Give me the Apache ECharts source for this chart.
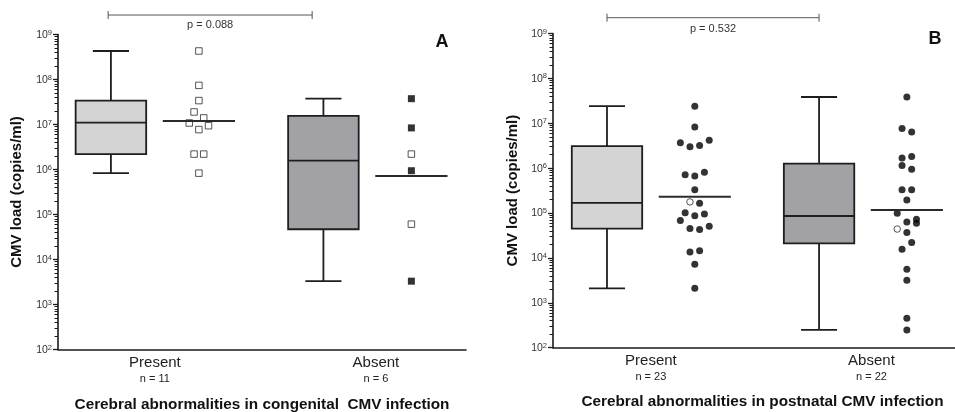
<!DOCTYPE html>
<html><head><meta charset="utf-8">
<script src="https://cdn.jsdelivr.net/npm/echarts@6/dist/echarts.min.js"></script>
<style>html,body{margin:0;padding:0;background:#fff}#c{width:955px;height:412px}</style>
</head><body><div id="c"></div>
<script>
// ---------------- data ----------------
const groupNames = ['Present', 'Absent'];
const groupX = [0, 1];
const nLabelsA = ['n = 11', 'n = 6'];
const nLabelsB = ['n = 23', 'n = 22'];
const xTitleA = 'Cerebral abnormalities in congenital  CMV infection';
const xTitleB = 'Cerebral abnormalities in postnatal CMV infection';
const yTitle = 'CMV load (copies/ml)';
const yTicks = [1e2, 1e3, 1e4, 1e5, 1e6, 1e7, 1e8, 1e9];

// box stats: [min, q1, median, q3, max]
const boxA = [[8.3e5, 2.2e6, 1.1e7, 3.4e7, 4.3e8], [3.3e3, 4.7e4, 1.57e6, 1.55e7, 3.75e7]];
const boxB = [[2.1e3, 4.5e4, 1.68e5, 3.1e6, 2.4e7], [249, 2.1e4, 8.6e4, 1.26e6, 3.85e7]];
const meanA = [1.2e7, 7.2e5];
const meanB = [2.3e5, 1.17e5];

// individual points: value, jitter step, filled (1) / open (0)
const aPresentVals = [4.3e8, 7.4e7, 3.4e7, 1.9e7, 1.4e7, 1.08e7, 9.4e6, 7.7e6, 2.2e6, 2.2e6, 8.3e5];
const aPresentJit  = [0, 0, 0, -1, 1, -2, 2, 0, -1, 1, 0];
const aPresentFill = [0, 0, 0, 0, 0, 0, 0, 0, 0, 0, 0];
const aAbsentVals  = [3.75e7, 8.4e6, 2.2e6, 9.4e5, 6.1e4, 3.3e3];
const aAbsentJit   = [0, 0, 0, 0, 0, 0];
const aAbsentFill  = [1, 1, 0, 1, 0, 1];

const bPresentVals = [2.4e7, 8.3e6, 3.7e6, 4.2e6, 3.0e6, 3.2e6, 7.1e5, 6.7e5, 8.1e5, 3.3e5, 1.77e5, 1.65e5,
                      1.02e5, 8.7e4, 9.5e4, 6.8e4, 4.5e4, 4.3e4, 5.1e4, 1.36e4, 1.45e4, 7.2e3, 2.1e3];
const bPresentJit  = [0, 0, -3, 3, -1, 1, -2, 0, 2, 0, -1, 1, -2, 0, 2, -3, -1, 1, 3, -1, 1, 0, 0];
const bPresentFill = [1, 1, 1, 1, 1, 1, 1, 1, 1, 1, 0, 1, 1, 1, 1, 1, 1, 1, 1, 1, 1, 1, 1];
const bAbsentVals  = [3.85e7, 7.6e6, 6.4e6, 1.69e6, 1.81e6, 1.14e6, 9.4e5, 3.3e5, 3.3e5, 1.96e5, 9.9e4,
                      6.3e4, 7.3e4, 5.9e4, 4.4e4, 3.7e4, 2.2e4, 1.56e4, 5.6e3, 3.2e3, 454, 249];
const bAbsentJit   = [0, -1, 1, -1, 1, -1, 1, -1, 1, 0, -2, 0, 2, 2, -2, 0, 1, -1, 0, 0, 0, 0];
const bAbsentFill  = [1, 1, 1, 1, 1, 1, 1, 1, 1, 1, 1, 1, 1, 1, 0, 1, 1, 1, 1, 1, 1, 1];

// p-value annotations: [x from, x to, bracket level, text level]
const pTextA = 'p = 0.088';
const pTextB = 'p = 0.532';
const bracketA = [-0.22, 0.74, 2.71e9, 1.65e9];
const bracketB = [-0.207, 0.793, 2.25e9, 1.28e9];

// ---------------- layout / style constants ----------------
const FONT = '"Liberation Sans", Arial, Helvetica, sans-serif';
const BOX_OFF = -0.207, DOT_OFF = 0.207, JIT = 0.0227;
const BOX_HALF = 0.166, CAP_HALF = 0.085, MEAN_HALF = 0.17;
const minorTicks = [];
for (let e = 2; e < 9; e++) for (let k = 2; k <= 9; k++) minorTicks.push(k * Math.pow(10, e));

const chart = echarts.init(document.getElementById('c'), null, {renderer: 'canvas'});

function yMajor(grid, gap) {
  return {
    type: 'log', logBase: 10, min: 1e2, max: 1e9, gridIndex: grid, position: 'left',
    name: yTitle, nameLocation: 'middle', nameGap: gap,
    nameTextStyle: {fontFamily: FONT, fontWeight: 'bold', fontSize: 15, color: '#111'},
    axisLine: {show: true, onZero: false, lineStyle: {color: '#1a1a1a', width: 1.6}},
    axisTick: {show: true, customValues: yTicks, length: 5, lineStyle: {color: '#1a1a1a', width: 1.3}},
    axisLabel: {
      show: true, customValues: yTicks, margin: 6,
      formatter: v => '{b|10}{s|' + Math.round(Math.log10(v)) + '}',
      rich: {
        b: {fontFamily: FONT, fontSize: 10.5, color: '#333', lineHeight: 12, verticalAlign: 'bottom'},
        s: {fontFamily: FONT, fontSize: 7.5, color: '#333', lineHeight: 12, verticalAlign: 'top', padding: [0, 0, 4, 0]}
      }
    },
    splitLine: {show: false}
  };
}
function yMinor(grid) {
  return {
    type: 'log', logBase: 10, min: 1e2, max: 1e9, gridIndex: grid, position: 'left', offset: 0,
    axisLine: {show: false, onZero: false},
    axisTick: {show: true, customValues: minorTicks, length: 3.5, lineStyle: {color: '#1a1a1a', width: 1}},
    axisLabel: {show: false}, splitLine: {show: false}
  };
}
function xAxis(grid, min, max, nLabels, title, pad, gap) {
  return {
    type: 'value', gridIndex: grid, min: min, max: max, position: 'bottom',
    name: title, nameLocation: 'middle', nameGap: gap,
    nameTextStyle: {fontFamily: FONT, fontWeight: 'bold', fontSize: 15.3, color: '#111', padding: pad},
    axisLine: {show: true, onZero: false, lineStyle: {color: '#1a1a1a', width: 1.6}},
    axisTick: {show: false},
    splitLine: {show: false},
    axisLabel: {
      show: true, customValues: [0, 1.04], margin: 5,
      formatter: v => {
        const i = v < 0.5 ? 0 : 1;
        return '{a|' + groupNames[i] + '}\n{b|' + nLabels[i] + '}';
      },
      rich: {
        a: {fontFamily: FONT, fontSize: 15, color: '#222', lineHeight: 17},
        b: {fontFamily: FONT, fontSize: 11, color: '#222', lineHeight: 14}
      }
    }
  };
}

function boxSeries(stats, xi, yi, fills) {
  return {
    type: 'custom', xAxisIndex: xi, yAxisIndex: yi, silent: true, z: 3,
    data: stats.map((s, i) => [groupX[i] + BOX_OFF].concat(s).concat([i])),
    renderItem: function (params, api) {
      const x = api.value(0);
      const v = [1, 2, 3, 4, 5].map(k => api.value(k));
      const pMin = api.coord([x, v[0]]), pQ1 = api.coord([x, v[1]]), pMed = api.coord([x, v[2]]);
      const pQ3 = api.coord([x, v[3]]), pMax = api.coord([x, v[4]]);
      const xl = api.coord([x - BOX_HALF, v[2]])[0], xr = api.coord([x + BOX_HALF, v[2]])[0];
      const cl = api.coord([x - CAP_HALF, v[2]])[0], cr = api.coord([x + CAP_HALF, v[2]])[0];
      const st = {stroke: '#1e1e1e', lineWidth: 1.8, fill: null};
      const fill = fills[api.value(6)];
      return {
        type: 'group', children: [
          {type: 'line', shape: {x1: pMax[0], y1: pMax[1], x2: pQ3[0], y2: pQ3[1]}, style: st},
          {type: 'line', shape: {x1: pQ1[0], y1: pQ1[1], x2: pMin[0], y2: pMin[1]}, style: st},
          {type: 'line', shape: {x1: cl, y1: pMax[1], x2: cr, y2: pMax[1]}, style: st},
          {type: 'line', shape: {x1: cl, y1: pMin[1], x2: cr, y2: pMin[1]}, style: st},
          {type: 'rect', shape: {x: xl, y: pQ3[1], width: xr - xl, height: pQ1[1] - pQ3[1]},
            style: {fill: fill, stroke: '#1e1e1e', lineWidth: 1.8}},
          {type: 'line', shape: {x1: xl, y1: pMed[1], x2: xr, y2: pMed[1]}, style: st}
        ]
      };
    }
  };
}
function meanSeries(means, xi, yi) {
  return {
    type: 'custom', xAxisIndex: xi, yAxisIndex: yi, silent: true, z: 5,
    data: means.map((m, i) => [groupX[i] + DOT_OFF, m]),
    renderItem: function (params, api) {
      const x = api.value(0), m = api.value(1);
      const a = api.coord([x - MEAN_HALF, m]), b = api.coord([x + MEAN_HALF, m]);
      return {type: 'line', shape: {x1: a[0], y1: a[1], x2: b[0], y2: b[1]},
        style: {stroke: '#2a2a2a', lineWidth: 2}};
    }
  };
}
function pts(vals, jit, fill, g, want) {
  const out = [];
  vals.forEach((v, i) => { if (fill[i] === want) out.push([groupX[g] + DOT_OFF + jit[i] * JIT, v]); });
  return out;
}
function dotSeries(data, xi, yi, symbol, size, filled) {
  return {
    type: 'scatter', xAxisIndex: xi, yAxisIndex: yi, silent: true, z: 4,
    symbol: symbol, symbolSize: size, data: data,
    itemStyle: filled ? {color: '#000'} : {color: '#fff', borderColor: '#2a2a2a', borderWidth: 1}
  };
}
function bracketSeries(br, text, xi, yi) {
  return {
    type: 'custom', xAxisIndex: xi, yAxisIndex: yi, silent: true, clip: false, z: 6,
    data: [br],
    renderItem: function (params, api) {
      const a = api.coord([api.value(0), api.value(2)]);
      const b = api.coord([api.value(1), api.value(2)]);
      const t = api.coord([(api.value(0) + api.value(1)) / 2, api.value(3)]);
      const st = {stroke: '#555', lineWidth: 1};
      return {
        type: 'group', children: [
          {type: 'line', shape: {x1: a[0], y1: a[1], x2: b[0], y2: b[1]}, style: st},
          {type: 'line', shape: {x1: a[0], y1: a[1] - 4, x2: a[0], y2: a[1] + 4}, style: st},
          {type: 'line', shape: {x1: b[0], y1: b[1] - 4, x2: b[0], y2: b[1] + 4}, style: st},
          {type: 'text', style: {text: text, x: t[0], y: t[1], align: 'center', verticalAlign: 'middle',
            font: '11px ' + FONT, fill: '#333'}}
        ]
      };
    }
  };
}

const option = {
  animation: false,
  backgroundColor: '#fff',
  grid: [
    {left: 58, top: 34.5, width: 408, height: 315, outerBoundsMode: 'none', containLabel: false},
    {left: 553, top: 33.5, width: 402, height: 314.2, outerBoundsMode: 'none', containLabel: false}
  ],
  xAxis: [
    xAxis(0, -0.456, 1.464, nLabelsA, xTitleA, [0, 0, 0, 0], 48),
    xAxis(1, -0.4616, 1.434, nLabelsB, xTitleB, [0, 0, 0, 17], 47)
  ],
  yAxis: [yMajor(0, 33.5), yMinor(0), yMajor(1, 32.5), yMinor(1)],
  graphic: [
    {type: 'text', x: 442, y: 42, style: {text: 'A', align: 'center', verticalAlign: 'middle',
      font: 'bold 18px ' + FONT, fill: '#111'}},
    {type: 'text', x: 935, y: 39, style: {text: 'B', align: 'center', verticalAlign: 'middle',
      font: 'bold 18px ' + FONT, fill: '#111'}}
  ],
  series: [
    boxSeries(boxA, 0, 0, ['#d4d4d4', '#a2a1a6']),
    boxSeries(boxB, 1, 2, ['#d4d4d4', '#a2a1a6']),
    dotSeries(pts(aPresentVals, aPresentJit, aPresentFill, 0, 0), 0, 0, 'rect', 6.5, false),
    dotSeries(pts(aAbsentVals, aAbsentJit, aAbsentFill, 1, 0), 0, 0, 'rect', 6.5, false),
    dotSeries(pts(aAbsentVals, aAbsentJit, aAbsentFill, 1, 1), 0, 0, 'rect', 7, true),
    dotSeries(pts(bPresentVals, bPresentJit, bPresentFill, 0, 1), 1, 2, 'circle', 7, true),
    dotSeries(pts(bPresentVals, bPresentJit, bPresentFill, 0, 0), 1, 2, 'circle', 6.5, false),
    dotSeries(pts(bAbsentVals, bAbsentJit, bAbsentFill, 1, 1), 1, 2, 'circle', 7, true),
    dotSeries(pts(bAbsentVals, bAbsentJit, bAbsentFill, 1, 0), 1, 2, 'circle', 6.5, false),
    meanSeries(meanA, 0, 0),
    meanSeries(meanB, 1, 2),
    bracketSeries(bracketA, pTextA, 0, 0),
    bracketSeries(bracketB, pTextB, 1, 2)
  ]
};
chart.setOption(option);
</script>
</body></html>
